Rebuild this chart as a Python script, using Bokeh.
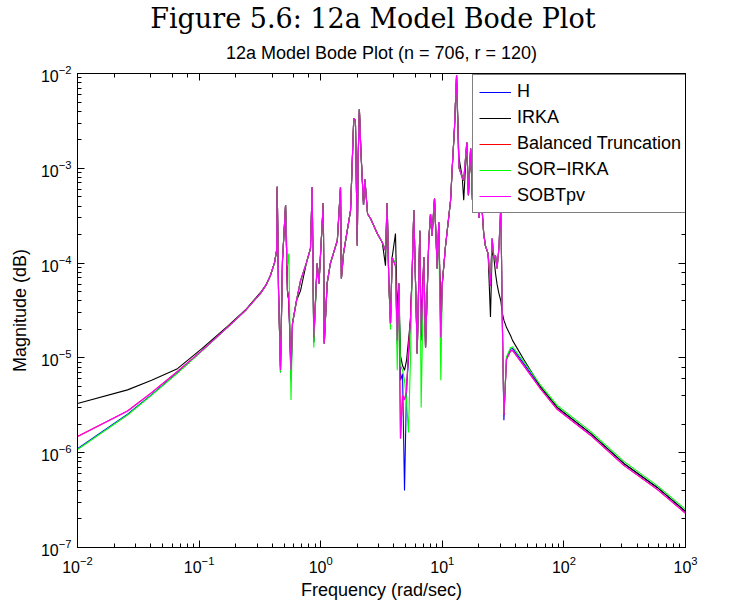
from bokeh.plotting import figure
from bokeh.models import Range1d, LogAxis, LogTicker, Legend, LegendItem, Title, CustomJSTickFormatter
from bokeh.embed import file_html
from bokeh.resources import INLINE

# frequency (rad/sec)
freq = [0.01, 0.0258, 0.0407, 0.0664, 0.106, 0.171, 0.24, 0.32, 0.355, 0.386,
        0.417, 0.434, 0.439, 0.450,
        0.467, 0.485, 0.514, 0.533, 0.547, 0.570, 0.586, 0.632, 0.682, 0.764,
        0.824, 0.851, 0.877, 0.935, 0.968, 1.05, 1.07, 1.13, 1.20, 1.37,
        1.455, 1.48, 1.54, 1.76, 1.87, 1.93, 2.00, 2.03, 2.08, 2.14,
        2.25, 2.31, 2.43, 2.57, 2.92, 3.21, 3.41, 3.52, 3.63, 3.75,
        3.87, 4.12, 4.26, 4.39, 4.53, 4.71, 4.89, 5.08, 5.27, 5.47,
        5.65, 5.83, 6.22, 6.53, 6.70, 7.05, 7.28, 7.74, 8.00, 8.23,
        8.63, 9.08, 9.35, 9.72, 10.0, 10.6, 11.7, 12.1, 12.6, 13.1,
        13.7, 14.6, 15.0, 15.9, 16.4, 17.1, 17.7, 18.4, 19.1, 20.0,
        20.6, 21.9, 22.6, 23.8, 24.9, 25.7, 26.6, 27.4, 28.2, 29.2,
        30.3, 31.1, 32.1, 33.7, 36.4, 37.8, 46.8, 64.3, 88.1, 165.6,
        311.0, 585.0, 1000.0]

mag_H = [1.1e-6, 2.55e-6, 4.1e-6, 7.0e-6, 1.2e-5, 2.1e-5, 3.15e-5, 4.8e-5, 5.85e-5, 7.4e-5,
         1.01e-4, 1.36e-4, 6.4e-4, 5.1e-5,
         7.0e-6, 1.06e-4, 4.1e-4, 5.1e-5, 4.0e-5, 5.8e-6, 2.3e-5, 4.0e-5, 6.5e-5, 1.01e-4,
         1.43e-4, 6.3e-4, 1.5e-5, 9.9e-5, 6.1e-5, 4.3e-4, 1.42e-5, 6.1e-5, 9.9e-5, 1.73e-4,
         6.3e-4, 6.9e-5, 1.26e-4, 3.6e-4, 3.35e-3, 3.2e-3, 1.53e-4, 1.2e-3, 4.2e-3, 1.54e-3,
         4.1e-4, 7.6e-4, 3.3e-4, 2.95e-4, 2.05e-4, 1.65e-4, 1.36e-4, 4.3e-4, 6.5e-5, 2.3e-5,
         1.15e-4, 9.4e-5, 1.4e-5, 6.1e-5, 5.8e-6, 6.8e-6, 4.0e-7, 4.9e-6, 9.4e-6, 2.5e-5,
         7.8e-5, 3.6e-4, 1.11e-5, 2.2e-4, 1.53e-5, 1.15e-4, 1.29e-5, 1.73e-4, 3.3e-4, 1.95e-4,
         4.8e-4, 8.8e-5, 2.7e-4, 1.64e-5, 6.1e-5, 1.46e-4, 4.6e-4, 1.07e-3, 2.7e-3, 9.6e-3,
         1.02e-3, 8.0e-4, 7.4e-4, 1.87e-3, 5.2e-4, 1.62e-3, 4.6e-4, 1.96e-3, 1.12e-3, 3.0e-4,
         6.6e-4, 2.05e-4, 1.53e-4, 1.26e-4, 5.8e-5, 1.82e-4, 1.12e-4, 1.2e-4, 8.8e-5, 1.43e-4,
         4.1e-4, 2.9e-5, 2.2e-6, 9.9e-6, 1.23e-5, 1.26e-5, 8.7e-6, 4.9e-6, 3.0e-6, 1.6e-6,
         7.7e-7, 4.3e-7, 2.4e-7]

mag_IRKA = [3.3e-6, 4.6e-6, 5.8e-6, 7.7e-6, 1.26e-5, 2.15e-5, 3.2e-5, 4.9e-5, 5.9e-5, 7.4e-5,
            1.01e-4, 1.36e-4, 6.4e-4, 5.1e-5,
            8.0e-6, 1.06e-4, 4.1e-4, 5.1e-5, 4.0e-5, 6.5e-6, 2.3e-5, 4.0e-5, 5.1e-5, 1.01e-4,
            1.43e-4, 6.3e-4, 1.45e-5, 9.9e-5, 6.1e-5, 4.3e-4, 1.42e-5, 6.1e-5, 9.9e-5, 1.73e-4,
            6.3e-4, 6.9e-5, 1.26e-4, 3.6e-4, 3.35e-3, 3.2e-3, 1.53e-4, 1.2e-3, 4.2e-3, 1.54e-3,
            4.1e-4, 7.6e-4, 3.3e-4, 2.95e-4, 2.05e-4, 1.65e-4, 9.4e-5, 4.3e-4, 6.5e-5, 2.3e-5,
            1.15e-4, 2.05e-4, 3.16e-5, 6.1e-5, 1.06e-5, 8.3e-6, 7.4e-6, 9.4e-6, 1.53e-5, 2.5e-5,
            7.8e-5, 3.6e-4, 1.11e-5, 2.2e-4, 1.95e-5, 1.15e-4, 1.29e-5, 1.73e-4, 3.3e-4, 1.95e-4,
            4.8e-4, 8.8e-5, 2.7e-4, 2.5e-5, 6.1e-5, 1.46e-4, 4.6e-4, 1.07e-3, 2.7e-3, 9.6e-3,
            1.3e-3, 8.0e-4, 4.6e-4, 1.87e-3, 5.2e-4, 1.62e-3, 4.6e-4, 1.96e-3, 1.12e-3, 3.0e-4,
            6.6e-4, 2.05e-4, 1.53e-4, 1.26e-4, 2.7e-5, 1.4e-4, 1.12e-4, 7.8e-5, 6.0e-5, 4.8e-5,
            4.0e-5, 3.0e-5, 2.5e-5, 2.1e-5, 1.72e-5, 1.53e-5, 9.6e-6, 4.95e-6, 3.0e-6, 1.6e-6,
            7.7e-7, 4.3e-7, 2.4e-7]

mag_BT = [1.48e-6, 2.75e-6, 4.3e-6, 7.2e-6, 1.2e-5, 2.1e-5, 3.15e-5, 4.8e-5, 5.85e-5, 7.4e-5,
          1.01e-4, 1.36e-4, 6.4e-4, 5.1e-5,
          7.4e-6, 1.06e-4, 4.1e-4, 5.1e-5, 4.0e-5, 7.4e-6, 2.3e-5, 4.0e-5, 6.5e-5, 1.01e-4,
          1.43e-4, 6.3e-4, 1.64e-5, 9.9e-5, 6.1e-5, 4.3e-4, 1.42e-5, 6.1e-5, 9.9e-5, 1.73e-4,
          6.3e-4, 6.9e-5, 1.26e-4, 3.6e-4, 3.35e-3, 3.2e-3, 1.53e-4, 1.2e-3, 4.2e-3, 1.54e-3,
          4.1e-4, 7.6e-4, 3.3e-4, 2.95e-4, 2.05e-4, 1.65e-4, 1.36e-4, 4.3e-4, 6.5e-5, 2.3e-5,
          1.15e-4, 9.4e-5, 1.53e-5, 6.1e-5, 1.41e-6, 4.0e-6, 3.6e-6, 4.5e-6, 1.2e-5, 2.5e-5,
          7.8e-5, 3.6e-4, 1.11e-5, 2.2e-4, 1.72e-5, 1.15e-4, 1.29e-5, 1.73e-4, 3.3e-4, 1.95e-4,
          4.8e-4, 8.8e-5, 2.7e-4, 1.64e-5, 6.1e-5, 1.46e-4, 4.6e-4, 1.07e-3, 2.7e-3, 9.6e-3,
          1.02e-3, 8.0e-4, 7.4e-4, 1.87e-3, 5.2e-4, 1.62e-3, 4.6e-4, 1.96e-3, 1.12e-3, 3.0e-4,
          6.6e-4, 2.05e-4, 1.53e-4, 1.26e-4, 5.8e-5, 1.82e-4, 1.12e-4, 1.2e-4, 8.8e-5, 1.43e-4,
          4.1e-4, 2.9e-5, 2.5e-6, 9.6e-6, 1.18e-5, 1.2e-5, 8.3e-6, 4.7e-6, 2.87e-6, 1.53e-6,
          7.35e-7, 4.1e-7, 2.3e-7]

mag_SOR = [1.08e-6, 2.5e-6, 4.05e-6, 6.9e-6, 1.19e-5, 2.1e-5, 3.15e-5, 4.8e-5, 5.85e-5, 7.4e-5,
           1.01e-4, 1.36e-4, 6.4e-4, 5.1e-5,
           7.0e-6, 1.06e-4, 4.1e-4, 9.4e-5, 1.26e-4, 3.6e-6, 2.3e-5, 4.0e-5, 6.5e-5, 1.01e-4,
           1.43e-4, 6.3e-4, 1.29e-5, 9.9e-5, 6.1e-5, 4.3e-4, 1.42e-5, 6.1e-5, 9.9e-5, 1.73e-4,
           6.3e-4, 6.9e-5, 1.26e-4, 3.6e-4, 3.35e-3, 3.2e-3, 1.53e-4, 1.2e-3, 4.2e-3, 1.54e-3,
           4.1e-4, 7.6e-4, 3.3e-4, 2.95e-4, 2.05e-4, 1.65e-4, 1.36e-4, 4.3e-4, 6.5e-5, 2.0e-5,
           1.15e-4, 1.0e-4, 7.4e-6, 6.1e-5, 8.3e-6, 7.4e-6, 5.8e-6, 3.6e-6, 1.63e-6, 9.4e-6,
           7.8e-5, 3.6e-4, 1.11e-5, 2.2e-4, 3.0e-6, 1.15e-4, 1.29e-5, 1.73e-4, 3.3e-4, 1.95e-4,
           4.8e-4, 8.8e-5, 2.7e-4, 5.8e-6, 6.1e-5, 1.46e-4, 4.6e-4, 1.07e-3, 2.7e-3, 9.6e-3,
           1.02e-3, 8.0e-4, 7.4e-4, 1.87e-3, 5.2e-4, 1.62e-3, 4.6e-4, 1.96e-3, 1.12e-3, 3.0e-4,
           6.6e-4, 2.05e-4, 1.53e-4, 1.26e-4, 6.5e-5, 1.82e-4, 1.12e-4, 1.2e-4, 8.8e-5, 1.43e-4,
           3.9e-4, 2.9e-5, 2.6e-6, 1.02e-5, 1.28e-5, 1.31e-5, 9.1e-6, 5.15e-6, 3.15e-6, 1.68e-6,
           8.1e-7, 4.5e-7, 2.52e-7]

mag_SOBT = [1.48e-6, 2.75e-6, 4.3e-6, 7.2e-6, 1.2e-5, 2.1e-5, 3.15e-5, 4.8e-5, 5.85e-5, 7.4e-5,
            1.01e-4, 1.36e-4, 6.4e-4, 5.1e-5,
            7.4e-6, 1.06e-4, 4.1e-4, 5.1e-5, 4.0e-5, 7.4e-6, 2.3e-5, 4.0e-5, 6.5e-5, 1.01e-4,
            1.43e-4, 6.3e-4, 1.64e-5, 9.9e-5, 6.1e-5, 4.3e-4, 1.42e-5, 6.1e-5, 9.9e-5, 1.73e-4,
            6.3e-4, 6.9e-5, 1.26e-4, 3.6e-4, 3.35e-3, 3.2e-3, 1.53e-4, 1.2e-3, 4.2e-3, 1.54e-3,
            4.1e-4, 7.6e-4, 3.3e-4, 2.95e-4, 2.05e-4, 1.65e-4, 1.36e-4, 4.3e-4, 6.5e-5, 2.3e-5,
            1.15e-4, 9.4e-5, 1.53e-5, 6.1e-5, 1.41e-6, 4.0e-6, 3.6e-6, 4.5e-6, 1.2e-5, 2.5e-5,
            7.8e-5, 3.6e-4, 1.11e-5, 2.2e-4, 1.72e-5, 1.15e-4, 1.29e-5, 1.73e-4, 3.3e-4, 1.95e-4,
            4.8e-4, 8.8e-5, 2.7e-4, 1.64e-5, 6.1e-5, 1.46e-4, 4.6e-4, 1.07e-3, 2.7e-3, 9.6e-3,
            1.02e-3, 8.0e-4, 7.4e-4, 1.87e-3, 5.2e-4, 1.62e-3, 4.6e-4, 1.96e-3, 1.12e-3, 3.0e-4,
            6.6e-4, 2.05e-4, 1.53e-4, 1.26e-4, 5.8e-5, 1.82e-4, 1.12e-4, 1.2e-4, 8.8e-5, 1.43e-4,
            4.1e-4, 2.9e-5, 2.5e-6, 9.6e-6, 1.18e-5, 1.2e-5, 8.3e-6, 4.7e-6, 2.87e-6, 1.53e-6,
            7.35e-7, 4.1e-7, 2.3e-7]

series_names = ["H", "IRKA", "Balanced Truncation", "SOR\u2212IRKA", "SOBTpv"]
series_colors = ["#0000ff", "#000000", "#ff0000", "#00ff00", "#ff00ff"]
series_mags = [mag_H, mag_IRKA, mag_BT, mag_SOR, mag_SOBT]

SANS = "Liberation Sans"

p = figure(width=740, height=608, x_axis_type="log", y_axis_type="log",
           x_range=Range1d(1e-2, 1e3), y_range=Range1d(1e-7, 1e-2),
           output_backend="svg", toolbar_location=None, title=None,
           min_border_left=77, min_border_right=55,
           min_border_top=73, min_border_bottom=61)
p.background_fill_color = "white"
p.border_fill_color = "white"
p.xgrid.visible = False
p.ygrid.visible = False
p.outline_line_color = "black"
p.outline_line_width = 1

renderers = []
for name, color, mags in zip(series_names, series_colors, series_mags):
    r = p.line(freq, mags, line_color=color, line_width=1.1)
    renderers.append(r)

def style_axis(ax, labels=True):
    ax.axis_line_color = "black"
    ax.axis_line_width = 1
    ax.major_tick_in = 7
    ax.major_tick_out = 0
    ax.minor_tick_in = 4
    ax.minor_tick_out = 0
    ax.major_tick_line_color = "black"
    ax.minor_tick_line_color = "black"
    if labels:
        ax.major_label_text_font = SANS
        ax.major_label_text_font_size = "16px"
        ax.major_label_text_color = "black"
        ax.axis_label_text_font = SANS
        ax.axis_label_text_font_size = "18px"
        ax.axis_label_text_font_style = "normal"
        ax.axis_label_text_color = "black"
    else:
        ax.formatter = CustomJSTickFormatter(code="return ''")
        ax.major_label_text_font_size = "2px"
        ax.major_label_text_alpha = 0
        ax.major_label_standoff = 0

xa = p.xaxis[0]
ya = p.yaxis[0]
style_axis(xa)
style_axis(ya)
xa.axis_label = "Frequency (rad/sec)"
ya.axis_label = "Magnitude (dB)"
xa.major_label_standoff = 8
xa.axis_label_standoff = 4
ya.major_label_standoff = 6
ya.axis_label_standoff = 8

top_ax = LogAxis(ticker=LogTicker())
right_ax = LogAxis(ticker=LogTicker())
style_axis(top_ax, labels=False)
style_axis(right_ax, labels=False)
p.add_layout(top_ax, "above")
p.add_layout(right_ax, "right")

p.add_layout(Title(text="12a Model Bode Plot (n = 706, r = 120)", align="center",
                   text_font=SANS, text_font_size="18px", text_font_style="normal",
                   text_color="black", standoff=22), "above")
p.add_layout(Title(text="Figure 5.6:   12a Model Bode Plot", align="center",
                   text_font="DejaVu Serif", text_font_size="27px", text_font_style="normal",
                   text_color="black", standoff=-8), "above")

legend = Legend(items=[LegendItem(label=n, renderers=[r]) for n, r in zip(series_names, renderers)],
                location=(395, 334), orientation="vertical",
                glyph_width=32, glyph_height=20, label_height=20, spacing=5,
                padding=6, margin=0, label_standoff=6,
                label_text_font=SANS, label_text_font_size="18px", label_text_color="black",
                border_line_color="black", border_line_width=1,
                background_fill_color="white", background_fill_alpha=1.0)
p.add_layout(legend, "center")

open("out.html", "w").write(file_html(p, INLINE))
